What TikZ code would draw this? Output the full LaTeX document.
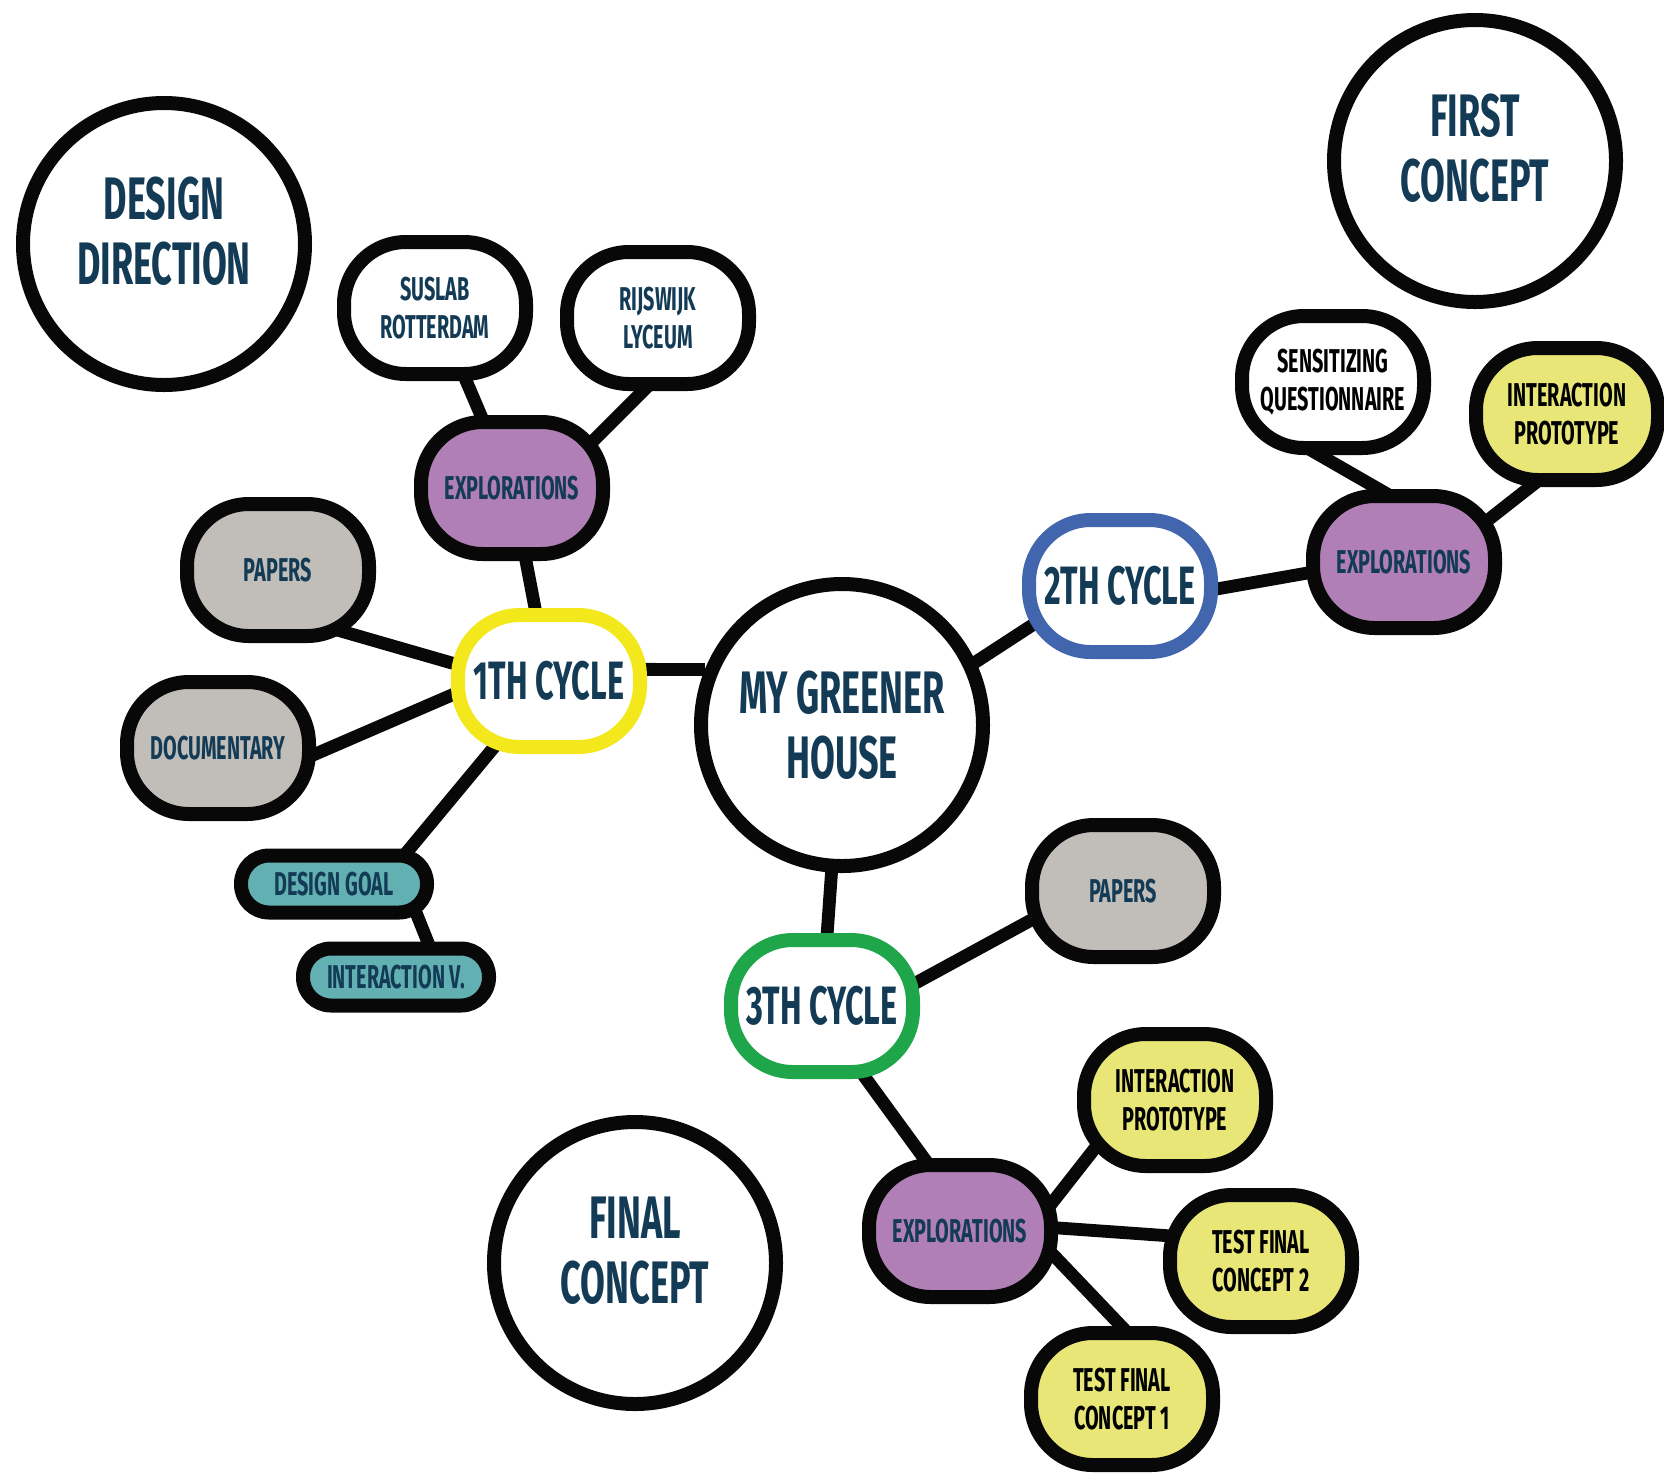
\documentclass[tikz,border=0pt]{standalone}
\usepackage{fontspec}
\setmainfont{Fira Sans}[FakeStretch=0.6]
\usepackage{xcolor}
\usepackage{tikz}
\usetikzlibrary{backgrounds}
\definecolor{mmink}{HTML}{133B55}
\definecolor{mmpurple}{HTML}{AF7FB5}
\definecolor{mmgrey}{HTML}{C1BDB9}
\definecolor{mmteal}{HTML}{63B0B2}
\definecolor{mmlime}{HTML}{E8E677}
\definecolor{mmyellow}{HTML}{F2E81C}
\definecolor{mmblue}{HTML}{4166AE}
\definecolor{mmgreen}{HTML}{1FA54A}
\tikzset{
  mmlink/.style={line width=6.4pt, draw=black!97, line cap=butt},
  mmbig/.style={circle, draw=black!97, fill=white, line width=7pt, minimum size=141pt, inner sep=0pt, align=center, text=mmink, font=\bfseries\fontsize{30}{32.5}\selectfont},
  mmraised/.style={mmbig, text depth=13pt},
  mmblob/.style={rectangle, rounded corners=31pt, draw=black!97, line width=7pt, minimum width=91pt, minimum height=66pt, inner sep=0pt, align=center, text=mmink, font=\bfseries\fontsize{16.5}{19}\selectfont},
  mmcycle/.style={mmblob, fill=white, font=\bfseries\fontsize{27}{30}\selectfont},
  mmpill/.style={mmblob, rounded corners=14pt, minimum width=93pt, minimum height=28.5pt, fill=mmteal},
  mmexplo/.style={mmblob, fill=mmpurple},
  mmsource/.style={mmblob, fill=mmgrey},
  mmproto/.style={mmblob, fill=mmlime, text=black},
  mmnote/.style={mmblob, fill=white},
}
\begin{document}
\begin{tikzpicture}[x=0.5pt, y=-0.5pt]
\useasboundingbox (0,0) rectangle (1664,1479);
\node[mmraised] (dirn) at (164,244) {DESIGN\\DIRECTION};
\node[mmraised] (first) at (1475,161) {FIRST\\CONCEPT};
\node[mmbig] (house) at (842,725) {MY GREENER\\HOUSE};
\node[mmraised] (final) at (635,1263) {FINAL\\CONCEPT};
\node[mmnote] (suslab) at (435,308) {SUSLAB\\ROTTERDAM};
\node[mmnote] (rijswijk) at (658,318) {RIJSWIJK\\LYCEUM};
\node[mmexplo] (explA) at (512,488) {EXPLORATIONS};
\node[mmsource] (papersA) at (278,570) {PAPERS};
\node[mmsource] (docu) at (218,748) {DOCUMENTARY};
\node[mmcycle, draw=mmyellow] (cycA) at (549,681) {1TH CYCLE};
\node[mmpill] (dgoal) at (334,884) {DESIGN GOAL};
\node[mmpill] (intv) at (396,977) {INTERACTION V.};
\node[mmcycle, draw=mmblue] (cycB) at (1120,586) {2TH CYCLE};
\node[mmexplo] (explB) at (1404,562) {EXPLORATIONS};
\node[mmnote, text=black] (sens) at (1333,382) {SENSITIZING\\QUESTIONNAIRE};
\node[mmproto] (protoB) at (1567,414) {INTERACTION\\PROTOTYPE};
\node[mmsource] (papersC) at (1123,891) {PAPERS};
\node[mmcycle, draw=mmgreen] (cycC) at (822,1006) {3TH CYCLE};
\node[mmexplo] (explC) at (960,1231) {EXPLORATIONS};
\node[mmproto] (protoC) at (1175,1100) {INTERACTION\\PROTOTYPE};
\node[mmproto] (testB) at (1261,1261) {TEST FINAL\\CONCEPT 2};
\node[mmproto] (testA) at (1122,1399) {TEST FINAL\\CONCEPT 1};
\begin{scope}[on background layer]
\draw[mmlink] ([shift={(0,-12)}]cycA.center) -- (house.158);
\draw[mmlink] (explA.center) -- (suslab.center);
\draw[mmlink] ([shift={(34,0)}]explA.center) -- ([shift={(16,42)}]rijswijk.center);
\draw[mmlink] (explA.center) -- (cycA.center);
\draw[mmlink] ([shift={(42,55)}]papersA.center) -- ([shift={(0,10)}]cycA.center);
\draw[mmlink] ([shift={(72,17)}]docu.center) -- ([shift={(0,-28)}]cycA.center);
\draw[mmlink] (cycA.center) -- ([shift={(58,-14)}]dgoal.center);
\draw[mmlink] ([shift={(75,11)}]dgoal.center) -- ([shift={(41,-12)}]intv.center);
\draw[mmlink] ([shift={(0,24)}]house.center) -- ([shift={(0,-18)}]cycB.center);
\draw[mmlink] ([shift={(0,20)}]cycB.center) -- ([shift={(0,-6)}]explB.center);
\draw[mmlink] ([shift={(11,-52)}]explB.center) -- ([shift={(-57,48)}]sens.center);
\draw[mmlink] ([shift={(56,-20)}]explB.center) -- ([shift={(23,26)}]protoB.center);
\draw[mmlink] (house.center) -- (cycC.center);
\draw[mmlink] ([shift={(0,28)}]cycC.center) -- ([shift={(0,-21)}]papersC.center);
\draw[mmlink] ([shift={(-9,0)}]cycC.center) -- ([shift={(17,0)}]explC.center);
\draw[mmlink] ([shift={(70,0)}]explC.center) -- ([shift={(-58,20)}]protoC.center);
\draw[mmlink] ([shift={(0,-10)}]explC.center) -- ([shift={(-61,-23)}]testB.center);
\draw[mmlink] ([shift={(40,-32)}]explC.center) -- ([shift={(22,-49)}]testA.center);
\end{scope}
\end{tikzpicture}
\end{document}
